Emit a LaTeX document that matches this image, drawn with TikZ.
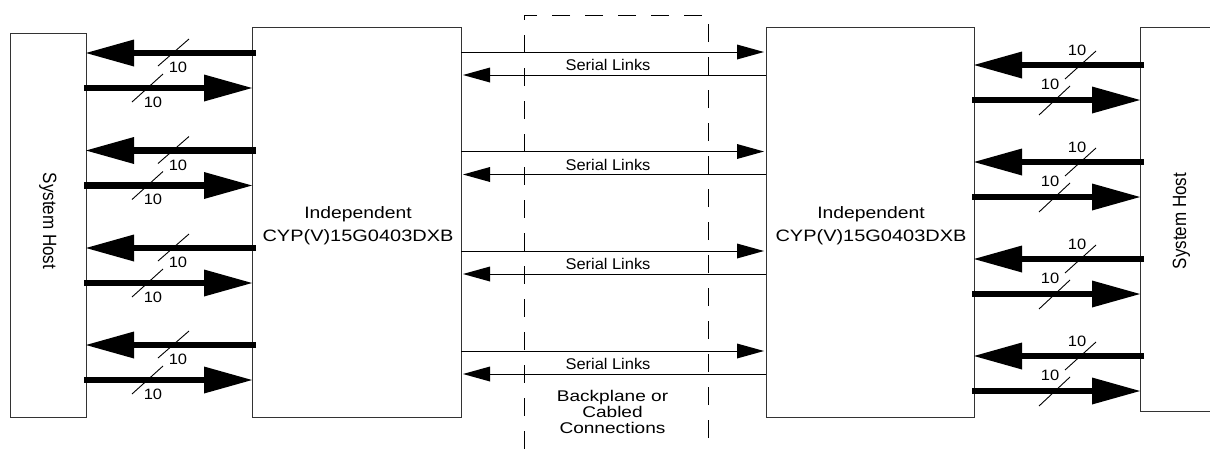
\documentclass[tikz,border=0pt]{standalone}
\usepackage{graphicx}
\usepackage{fontspec}
\setmainfont{Liberation Sans}
\usetikzlibrary{arrows.meta,calc}
\newcommand\hsc[2]{\scalebox{#1}[1]{#2}}
\tikzset{
  boxshape/.style={draw=black!80, line width=1pt, rectangle, inner sep=0pt, outer sep=0pt},
  thickarrow/.style={line width=6.5pt, line cap=butt, -{Triangle[length=48pt,width=27pt,line width=0pt]}},
  thinarrow/.style={line width=1pt, shorten >=2pt, -{Triangle[length=27pt,width=15pt,line width=0pt]}},
  slashmark/.style={line width=0.9pt},
  buslabel/.style={inner sep=0pt, font=\fontsize{15}{15}\selectfont},
  seriallabel/.style={inner sep=0pt, anchor=base, font=\fontsize{15.5}{15.5}\selectfont},
  chiplabel/.style={inner sep=0pt, align=center, font=\fontsize{16.5}{23}\selectfont},
  hostlabel/.style={inner sep=0pt, anchor=base, font=\fontsize{17}{17}\selectfont}
}
\begin{document}
\begin{tikzpicture}[x=1pt,y=-1pt]
\useasboundingbox (0,0) rectangle (1210,448);
\clip (0,0) rectangle (1210,448);
% boxes
\node[boxshape, minimum width=76pt, minimum height=384pt] (lhost) at (48,225) {};
\node[boxshape, minimum width=209pt, minimum height=390pt] (lchip) at (356.5,222) {};
\node[boxshape, minimum width=208pt, minimum height=390pt] (rchip) at (870,222) {};
\node[boxshape, minimum width=100pt, minimum height=384pt] (rhost) at (1190,219) {};
\node[boxshape, draw=black, dash pattern=on 18pt off 15pt, minimum width=184pt, minimum height=470pt] (bp) at (616,250) {};
% labels
\node[hostlabel, rotate=-90] (lhostt) at (43,221) {\scalebox{1}[1.13]{System Host}};
\node[hostlabel, rotate=90] (rhostt) at (1186,221) {\scalebox{1}[1.13]{System Host}};
\node[chiplabel] (lchipt) at (358,225.4) {\hsc{1.17}{Independent}\\\hsc{1.21}{CYP(V)15G0403DXB}};
\node[chiplabel] (rchipt) at (871,225.4) {\hsc{1.17}{Independent}\\\hsc{1.21}{CYP(V)15G0403DXB}};
\node[inner sep=0pt, align=center, anchor=base, font=\fontsize{15.5}{15.7}\selectfont] (bpt) at (612.5,433)
  {\hsc{1.23}{Backplane or}\\\hsc{1.23}{Cabled}\\\hsc{1.23}{Connections}};
% serial links
\foreach \y in {52,151.5,251,351} {
  \draw[thinarrow] (lchip.east |- 0,\y) -- (rchip.west |- 0,\y);
  \draw[thinarrow] (rchip.west |- 0,\y+23) -- (lchip.east |- 0,\y+23);
  \node[seriallabel] at (608,\y+18.5) {\hsc{1.06}{Serial Links}};
}
% left side buses
\foreach \y in {53,150.5,248,345} {
  \draw[thickarrow] ($(lchip.west |- 0,\y)+(4,0)$) -- (lhost.east |- 0,\y);
  \draw[slashmark] (158,\y+13) -- (189,\y-14);
  \node[buslabel] at (178,\y+14.5) {\hsc{1.1}{10}};
}
\foreach \y in {88,185.5,283,380} {
  \draw[thickarrow] ($(lhost.east |- 0,\y)+(-2,0)$) -- (lchip.west |- 0,\y);
  \draw[slashmark] (132,\y+14) -- (163,\y-14);
  \node[buslabel] at (153,\y+14) {\hsc{1.1}{10}};
}
% right side buses
\foreach \y in {65,162,259,356} {
  \draw[thickarrow] ($(rhost.west |- 0,\y)+(4,0)$) -- (rchip.east |- 0,\y);
  \draw[slashmark] (1065,\y+14) -- (1096,\y-14);
  \node[buslabel] at (1077,\y-15) {\hsc{1.1}{10}};
}
\foreach \y in {100,197,294,391} {
  \draw[thickarrow] ($(rchip.east |- 0,\y)+(-2,0)$) -- (rhost.west |- 0,\y);
  \draw[slashmark] (1039,\y+15) -- (1070,\y-14);
  \node[buslabel] at (1050,\y-15.5) {\hsc{1.1}{10}};
}
\end{tikzpicture}
\end{document}
